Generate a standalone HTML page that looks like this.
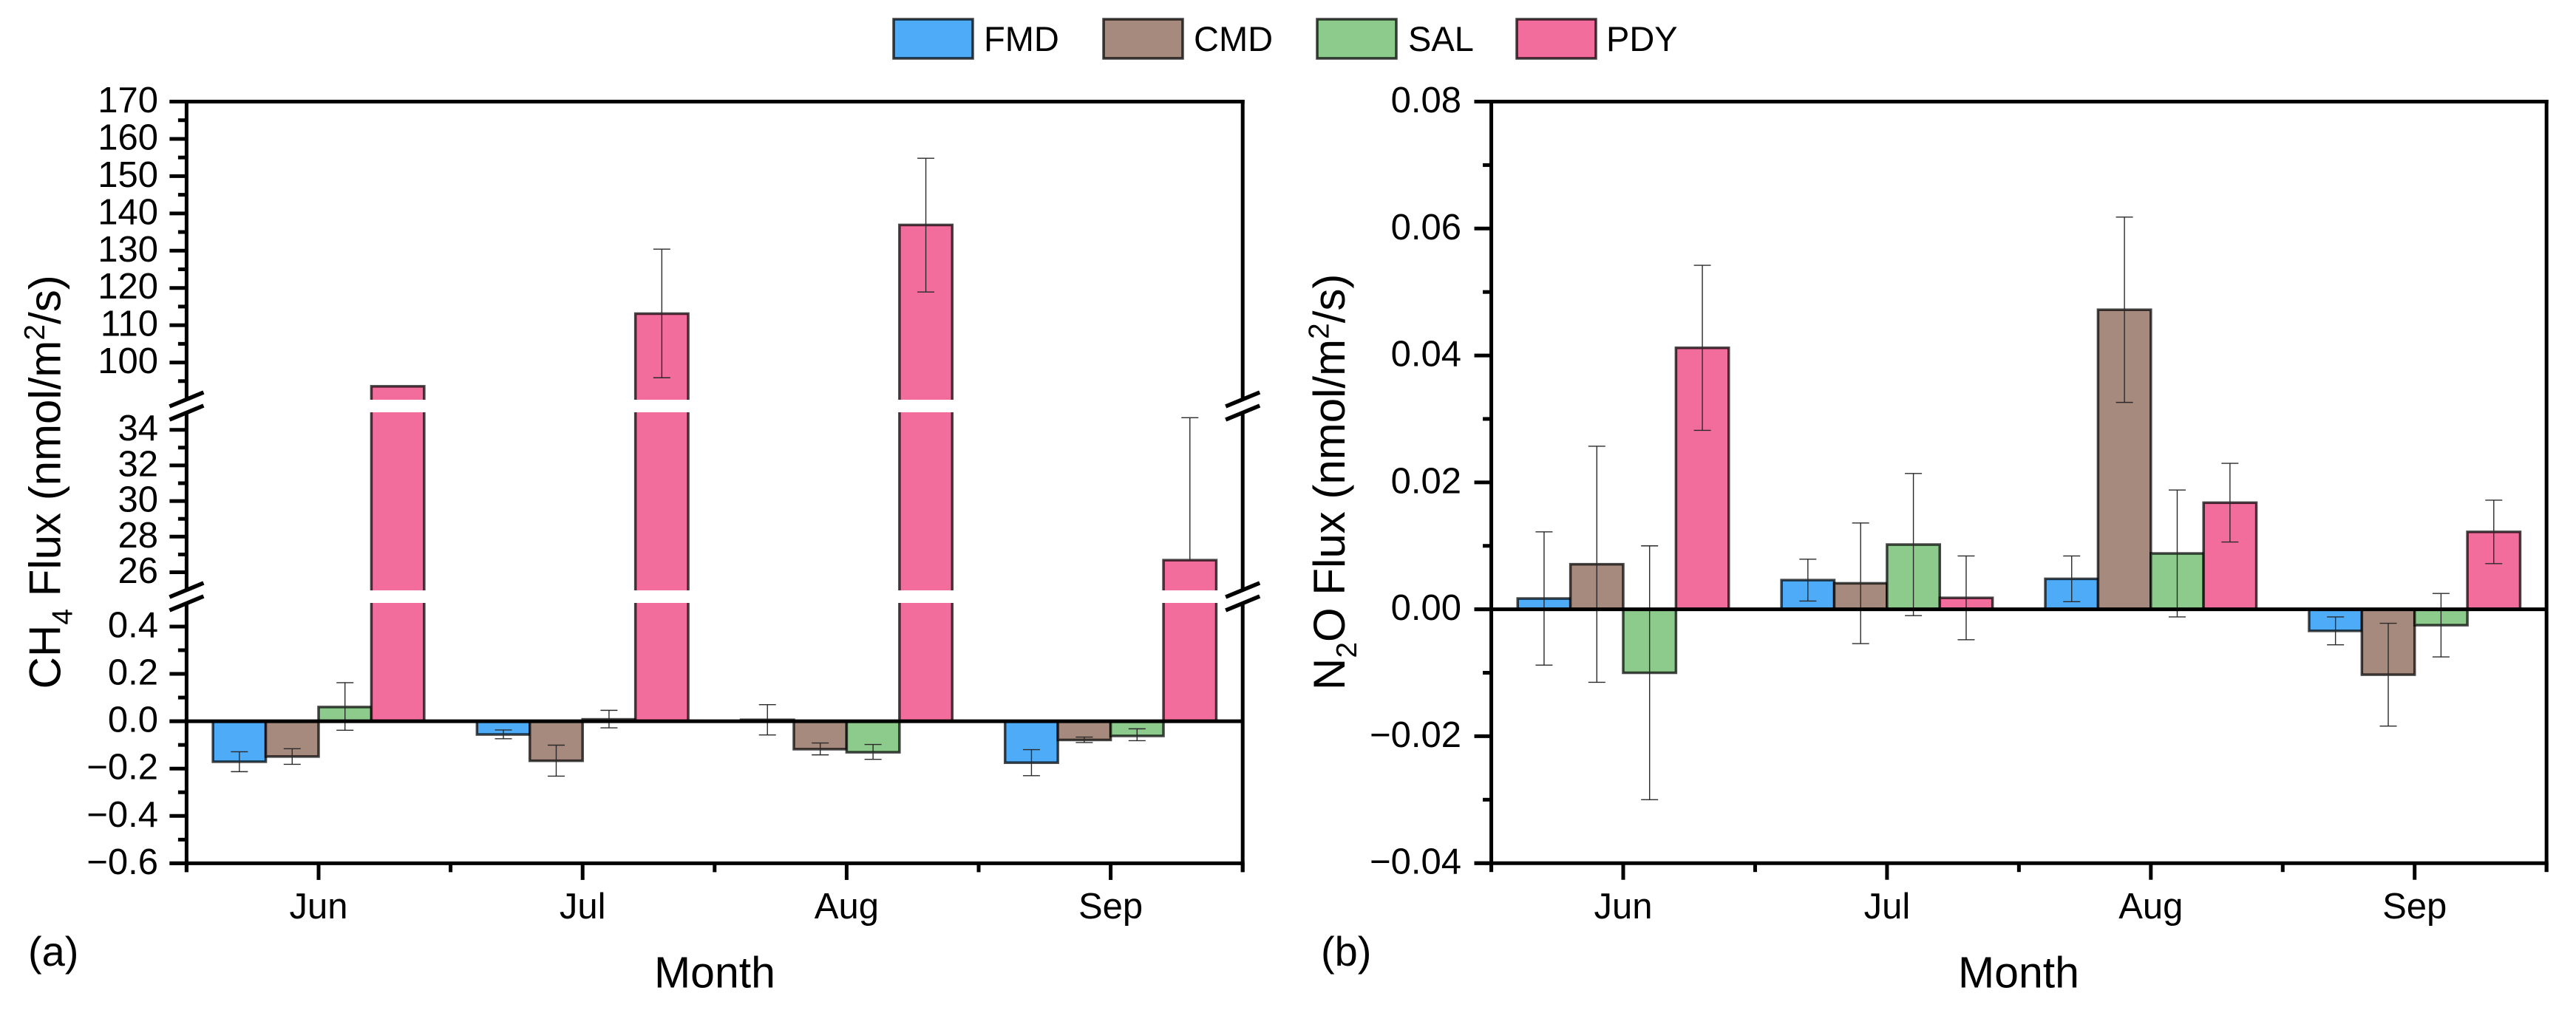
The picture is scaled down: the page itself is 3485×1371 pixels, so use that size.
<!DOCTYPE html>
<html>
<head>
<meta charset="utf-8">
<title>CH4 and N2O Flux by Month</title>
<style>
  html, body { margin: 0; padding: 0; background: #fff; }
  svg { display: block; }
  text { font-family: "Liberation Sans", Arial, sans-serif; fill: #000; }
</style>
</head>
<body>
<svg id="chart" xmlns="http://www.w3.org/2000/svg" width="3485" height="1371" viewBox="0 0 3485 1371">
  <rect x="0" y="0" width="3485" height="1371" fill="#fff"/>
  <defs>
    <clipPath id="clip-a-upper"><rect x="240" y="100" width="1460" height="441"/></clipPath>
    <clipPath id="clip-a-mid"><rect x="240" y="558" width="1460" height="241"/></clipPath>
    <clipPath id="clip-a-lower"><rect x="240" y="816" width="1460" height="360"/></clipPath>
    <clipPath id="clip-b-main"><rect x="2000" y="100" width="1460" height="1076"/></clipPath>
  </defs>

  <g id="legend">
    <g>
      <rect x="1209" y="26" width="107" height="53" fill="#4DABF7" stroke="#000" stroke-opacity="0.75" stroke-width="3.5"/>
      <text x="1331" y="69" font-size="47">FMD</text>
    </g>
    <g>
      <rect x="1493" y="26" width="107" height="53" fill="#A68A7D" stroke="#000" stroke-opacity="0.75" stroke-width="3.5"/>
      <text x="1615" y="69" font-size="47">CMD</text>
    </g>
    <g>
      <rect x="1782" y="26" width="107" height="53" fill="#8CCB8C" stroke="#000" stroke-opacity="0.75" stroke-width="3.5"/>
      <text x="1905" y="69" font-size="47">SAL</text>
    </g>
    <g>
      <rect x="2052" y="26" width="107" height="53" fill="#F26D9B" stroke="#000" stroke-opacity="0.75" stroke-width="3.5"/>
      <text x="2173" y="69" font-size="47">PDY</text>
    </g>
  </g>

  <text transform="translate(81.5 652.3) rotate(-90)" text-anchor="middle" font-size="60">CH<tspan font-size="39" dy="16">4</tspan><tspan dy="-16"> Flux (nmol/m</tspan><tspan font-size="39" dy="-21.5">2</tspan><tspan dy="21.5">/s)</tspan></text>
  <text transform="translate(1819 652.3) rotate(-90)" text-anchor="middle" font-size="60">N<tspan font-size="39" dy="16">2</tspan><tspan dy="-16">O Flux (nmol/m</tspan><tspan font-size="39" dy="-21.5">2</tspan><tspan dy="21.5">/s)</tspan></text>

  <text x="967" y="1336.5" text-anchor="middle" font-size="59">Month</text>
  <text x="2731" y="1336.5" text-anchor="middle" font-size="59">Month</text>
  <text x="38" y="1307" font-size="56">(a)</text>
  <text x="1787" y="1307" font-size="56">(b)</text>

  <g id="plots"></g>
</svg>

<script>
// ---------- shared data ----------
const categories = ['Jun', 'Jul', 'Aug', 'Sep'];
const seriesNames = ['FMD', 'CMD', 'SAL', 'PDY'];
const seriesColors = ['#4DABF7', '#A68A7D', '#8CCB8C', '#F26D9B'];

// ---------- panel (a) CH4 flux ----------
const ch4FMD = [-0.171, -0.056, 0.006, -0.175];
const ch4CMD = [-0.149, -0.167, -0.118, -0.079];
const ch4SAL = [0.060, 0.008, -0.131, -0.062];
const ch4PDY = [93.6, 113.1, 136.9, 26.68];
const ch4ErrUpFMD = [0.042, 0.019, 0.064, 0.055];
const ch4ErrDownFMD = [0.042, 0.018, 0.064, 0.055];
const ch4ErrUpCMD = [0.033, 0.066, 0.026, 0.012];
const ch4ErrDownCMD = [0.033, 0.065, 0.024, 0.011];
const ch4ErrUpSAL = [0.103, 0.038, 0.033, 0.030];
const ch4ErrDownSAL = [0.098, 0.036, 0.030, 0.020];
const ch4ErrUpPDY = [0, 17.3, 17.9, 8.0];
const ch4ErrDownPDY = [0, 17.2, 18.0, 0];

const ch4UpperTicks = [100, 110, 120, 130, 140, 150, 160, 170];
const ch4UpperMinor = [95, 105, 115, 125, 135, 145, 155, 165];
const ch4MidTicks = [26, 28, 30, 32, 34];
const ch4MidMinor = [27, 29, 31, 33];
const ch4LowerTicks = [-0.6, -0.4, -0.2, 0, 0.2, 0.4];
const ch4LowerMinor = [-0.5, -0.3, -0.1, 0.1, 0.3];
const ch4LowerLabels = ['\u22120.6', '\u22120.4', '\u22120.2', '0.0', '0.2', '0.4'];

// ---------- panel (b) N2O flux ----------
const n2oFMD = [0.0017, 0.0046, 0.0048, -0.0034];
const n2oCMD = [0.0071, 0.0041, 0.0472, -0.0103];
const n2oSAL = [-0.0100, 0.0102, 0.0088, -0.0025];
const n2oPDY = [0.0412, 0.0018, 0.0168, 0.0122];
const n2oErrFMD = [0.0105, 0.0033, 0.0036, 0.0022];
const n2oErrCMD = [0.0186, 0.0095, 0.0146, 0.0081];
const n2oErrSAL = [0.0200, 0.0112, 0.0100, 0.0050];
const n2oErrPDY = [0.0130, 0.0066, 0.0062, 0.0050];
const n2oTicks = [-0.04, -0.02, 0, 0.02, 0.04, 0.06, 0.08];
const n2oMinor = [-0.03, -0.01, 0.01, 0.03, 0.05, 0.07];
const n2oLabels = ['\u22120.04', '\u22120.02', '0.00', '0.02', '0.04', '0.06', '0.08'];

// ---------- drawing ----------
const NS = 'http://www.w3.org/2000/svg';
function mk(tag, attrs, parent) {
  const el = document.createElementNS(NS, tag);
  for (const k in attrs) el.setAttribute(k, attrs[k]);
  parent.appendChild(el);
  return el;
}
function linearAxis(d0, d1, r0, r1) {
  return function (v) { return r0 + (v - d0) * (r1 - r0) / (d1 - d0); };
}

const AXIS_W = 5;
const BAR_SW = 3.5;

function drawPanel(p) {
  const root = document.getElementById('plots');
  const g = mk('g', {}, root);
  
  

  const xCenter = linearAxis(0, 1, p.xJun, p.xJun + p.step);
  const barW = p.step * 0.2;

  // bars and error bars, one pass per axis segment
  p.segments.forEach(function (s) {
    const y = linearAxis(s.lo, s.hi, s.yLo, s.yHi);
    const sg = mk('g', { 'clip-path': 'url(#' + s.clip + ')' }, g);
    
    

    p.series.forEach(function (ser, k) {
      ser.values.forEach(function (v, i) {
        const left = xCenter(i) + (k - 2) * barW;
        const hi = Math.max(v, 0), lo = Math.min(v, 0);
        if (hi >= s.lo && lo <= s.hi) {
          const yTop = hi > s.hi ? s.yHi - 10 : y(hi);
          const yBot = lo < s.lo ? s.yLo + 10 : y(lo);
          const bar = mk('rect', {
            x: left, y: yTop, width: barW, height: Math.max(yBot - yTop, 0),
            fill: seriesColors[k], stroke: '#000', 'stroke-opacity': 0.72, 'stroke-width': BAR_SW
          }, sg);
          
          
        }
      });
    });

    p.series.forEach(function (ser, k) {
      ser.values.forEach(function (v, i) {
        const up = ser.errUp[i], down = ser.errDown[i];
        if (!up && !down) return;
        const cx = xCenter(i) + (k - 1.5) * barW;
        const eHi = v + up, eLo = v - down;
        if (eHi < s.lo || eLo > s.hi) return;
        const y1 = eHi > s.hi ? s.yHi : y(eHi);
        const y2 = eLo < s.lo ? s.yLo : y(eLo);
        const eg = mk('g', { stroke: '#2a2a2a', 'stroke-width': 1.4, fill: 'none' }, sg);
        
        
        mk('line', { x1: cx, x2: cx, y1: y1, y2: y2 }, eg);
        if (up && eHi <= s.hi) mk('line', { x1: cx - 11.5, x2: cx + 11.5, y1: y1, y2: y1 }, eg);
        if (down && eLo >= s.lo) mk('line', { x1: cx - 11.5, x2: cx + 11.5, y1: y2, y2: y2 }, eg);
      });
    });
  });

  // axis lines
  const ax = mk('g', { stroke: '#000', 'stroke-width': AXIS_W, fill: 'none' }, g);
  
  

  const xl = xCenter(-0.5), xr = xCenter(categories.length - 0.5);
  const top = p.segments[0].yHi, bottom = p.segments[p.segments.length - 1].yLo;

  function spine(x, name) {
    p.spineRuns.forEach(function (run) {
      const ln = mk('line', { x1: x, x2: x, y1: run[0], y2: run[1] }, ax);
      
      
    });
  }
  spine(xl, 'y-axis-line-left');
  spine(xr, 'y-axis-line-right');

  const topLine = mk('line', { x1: xl - 23, x2: xr + 2.5, y1: top, y2: top }, ax);
  
  
  const botLine = mk('line', { x1: xl - 23, x2: xr + 2.5, y1: bottom, y2: bottom }, ax);
  
  

  // zero line
  const zeroSeg = p.segments[p.segments.length - 1];
  const y0 = linearAxis(zeroSeg.lo, zeroSeg.hi, zeroSeg.yLo, zeroSeg.yHi)(0);
  const zero = mk('line', { x1: xl - 23, x2: xr, y1: y0, y2: y0 }, ax);
  
  

  // y ticks + labels
  p.segments.forEach(function (s) {
    const y = linearAxis(s.lo, s.hi, s.yLo, s.yHi);
    s.ticks.forEach(function (t, i) {
      const yy = y(t);
      const tk = mk('line', { x1: xl - 23, x2: xl, y1: yy, y2: yy }, ax);
      
      
      const lab = mk('text', { x: p.labelRight, y: yy + 14.5, 'text-anchor': 'end', 'font-size': 49 }, g);
      lab.textContent = s.labels ? s.labels[i] : String(t);
      
      
    });
    s.minor.forEach(function (t) {
      const yy = y(t);
      const tk = mk('line', { x1: xl - 11.5, x2: xl, y1: yy, y2: yy }, ax);
      
      
    });
  });

  // x ticks + labels
  categories.forEach(function (c, i) {
    const cx = xCenter(i);
    const tk = mk('line', { x1: cx, x2: cx, y1: bottom, y2: bottom + 22.5 }, ax);
    
    
    const lab = mk('text', { x: cx, y: 1243, 'text-anchor': 'middle', 'font-size': 49 }, g);
    lab.textContent = c;
    
    
  });
  for (let i = 0; i <= categories.length; i++) {
    const mx = xCenter(i - 0.5);
    const tk = mk('line', { x1: mx, x2: mx, y1: bottom, y2: bottom + 12 }, ax);
    
    
  }

  // axis-break slashes
  p.breaks.forEach(function (b) {
    [xl, xr].forEach(function (x) {
      const sl = mk('line', { x1: x - 23, x2: x + 23, y1: b + 9.5, y2: b - 9.5, 'stroke-width': 5.5 }, ax);
      
      
    });
  });
}

drawPanel({
  id: 'a', xJun: 431, step: 357.2, labelRight: 214,
  series: [
    { values: ch4FMD, errUp: ch4ErrUpFMD, errDown: ch4ErrDownFMD },
    { values: ch4CMD, errUp: ch4ErrUpCMD, errDown: ch4ErrDownCMD },
    { values: ch4SAL, errUp: ch4ErrUpSAL, errDown: ch4ErrDownSAL },
    { values: ch4PDY, errUp: ch4ErrUpPDY, errDown: ch4ErrDownPDY }
  ],
  segments: [
    { name: 'upper', clip: 'clip-a-upper', lo: 90, hi: 170, yLo: 541, yHi: 137.5, ticks: ch4UpperTicks, minor: ch4UpperMinor },
    { name: 'mid', clip: 'clip-a-mid', lo: 25, hi: 35, yLo: 798.6, yHi: 557.6, ticks: ch4MidTicks, minor: ch4MidMinor },
    { name: 'lower', clip: 'clip-a-lower', lo: -0.6, hi: 0.5, yLo: 1168.4, yHi: 815.9, ticks: ch4LowerTicks, minor: ch4LowerMinor, labels: ch4LowerLabels }
  ],
  spineRuns: [[135, 540], [559, 798], [817, 1180]],
  breaks: [540.5, 558.5, 798.5, 816.5]
});

drawPanel({
  id: 'b', xJun: 2196, step: 356.9, labelRight: 1977,
  series: [
    { values: n2oFMD, errUp: n2oErrFMD, errDown: n2oErrFMD },
    { values: n2oCMD, errUp: n2oErrCMD, errDown: n2oErrCMD },
    { values: n2oSAL, errUp: n2oErrSAL, errDown: n2oErrSAL },
    { values: n2oPDY, errUp: n2oErrPDY, errDown: n2oErrPDY }
  ],
  segments: [
    { name: 'main', clip: 'clip-b-main', lo: -0.04, hi: 0.08, yLo: 1168.2, yHi: 137.5, ticks: n2oTicks, minor: n2oMinor, labels: n2oLabels }
  ],
  spineRuns: [[135, 1180]],
  breaks: []
});
</script>
</body>
</html>
